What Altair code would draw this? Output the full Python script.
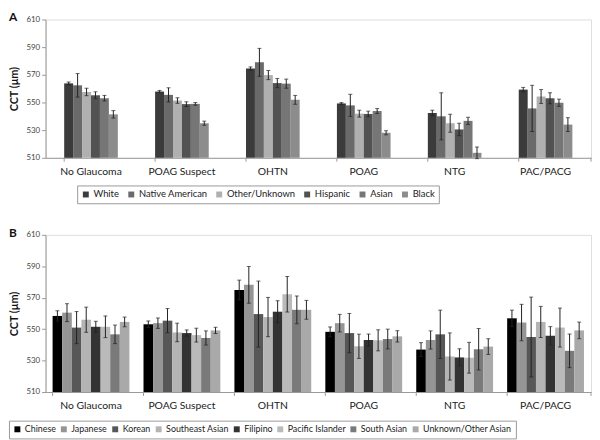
import altair as alt
import pandas as pd

conditions = ["No Glaucoma", "POAG Suspect", "OHTN", "POAG", "NTG", "PAC/PACG"]

# ---- Panel A: race/ethnicity ----
races = ["White", "Native American", "Other/Unknown", "Hispanic", "Asian", "Black"]
race_colors = ["#3b3b3b", "#6a6a6a", "#b0b0b0", "#525252", "#767676", "#8c8c8c"]

white_mean = [563.8, 557.9, 574.5, 549.3, 542.4, 559.3]
white_err = [1.0, 0.8, 1.2, 0.6, 2.0, 1.6]
native_mean = [562.4, 555.5, 579.0, 547.9, 540.0, 545.7]
native_err = [8.5, 5.1, 10.1, 8.0, 17.0, 16.7]
other_mean = [557.6, 551.4, 569.8, 541.9, 535.0, 554.3]
other_err = [2.7, 2.0, 3.3, 2.5, 6.5, 5.0]
hisp_mean = [555.2, 548.8, 564.0, 541.7, 530.5, 553.1]
hisp_err = [2.5, 1.7, 3.3, 2.0, 4.5, 4.0]
asian_mean = [553.1, 549.0, 563.6, 543.8, 536.7, 549.8]
asian_err = [2.0, 1.0, 3.3, 1.8, 2.6, 2.6]
black_mean = [541.4, 535.0, 551.9, 528.1, 513.6, 534.0]
black_err = [2.7, 1.5, 3.2, 1.5, 4.2, 5.0]

# ---- Panel B: Asian subgroups ----
subgroups = ["Chinese", "Japanese", "Korean", "Southeast Asian", "Filipino",
             "Pacific Islander", "South Asian", "Unknown/Other Asian"]
sub_colors = ["#000000", "#959595", "#575757", "#b4b4b4", "#333333",
              "#bababa", "#7a7a7a", "#a9a9a9"]

chinese_mean = [558.4, 553.1, 574.9, 548.3, 537.0, 556.9]
chinese_err = [3.3, 2.1, 6.3, 3.1, 4.4, 5.2]
japanese_mean = [560.5, 553.8, 578.2, 553.8, 543.1, 554.2]
japanese_err = [5.7, 3.3, 11.7, 5.6, 5.8, 11.6]
korean_mean = [551.0, 555.4, 559.6, 547.5, 546.7, 545.0]
korean_err = [10.2, 7.7, 21.0, 12.5, 15.4, 25.4]
sea_mean = [556.0, 547.9, 557.7, 539.1, 532.6, 554.6]
sea_err = [8.0, 5.9, 12.5, 7.7, 15.0, 9.9]
filipino_mean = [551.5, 547.5, 561.1, 543.1, 532.0, 545.8]
filipino_err = [3.5, 2.0, 7.0, 3.8, 5.5, 5.8]
pacific_mean = [551.5, 546.2, 572.2, 542.9, 531.8, 551.0]
pacific_err = [6.9, 4.4, 11.3, 6.7, 9.8, 12.4]
south_mean = [546.7, 544.4, 562.3, 543.7, 537.2, 536.2]
south_err = [5.9, 4.5, 8.8, 6.3, 13.2, 10.7]
unk_mean = [554.6, 549.2, 562.3, 545.4, 538.9, 549.2]
unk_err = [3.1, 2.0, 6.0, 3.6, 5.0, 5.3]

y_ticks = [510, 530, 550, 570, 590, 610]

FONT = "Lato"
W = 552


def build_df(groups, means, errs):
    rows = []
    for g, m, e in zip(groups, means, errs):
        for c, mv, ev in zip(conditions, m, e):
            rows.append({"cond": c, "grp": g, "mean": mv, "lo": mv - ev, "hi": mv + ev})
    return pd.DataFrame(rows)


def panel(groups, colors, means, errs, height, pad_inner, letter, lx, ly, lfs, colpad):
    df = build_df(groups, means, errs)
    xaxis = alt.Axis(ticks=False, labelPadding=9, labelFontSize=10.5,
                     labelColor="#222", domainColor="#999", labelAngle=0,
                     labelFont=FONT)
    xscale = alt.Scale(paddingInner=pad_inner, paddingOuter=pad_inner / 2)
    xenc = alt.X("cond:N", sort=conditions, title=None, scale=xscale, axis=xaxis)
    xoff = alt.XOffset("grp:N", sort=groups, scale=alt.Scale(paddingInner=0, paddingOuter=0))
    ydom = alt.Scale(domain=[510, 610], zero=False, nice=False)
    yaxis = alt.Axis(values=y_ticks, labelFontSize=8, labelOverlap=False,
                     labelColor="#444", tickSize=4, tickColor="#999",
                     domainColor="#999", grid=False, titleFontSize=11,
                     titleFont=FONT, titleFontWeight="bold", titleColor="#111",
                     labelFont=FONT, titlePadding=6, labelPadding=2)
    base = alt.Chart(df)
    bars = base.mark_bar().encode(
        x=xenc, xOffset=xoff,
        y=alt.Y("mean:Q", scale=ydom, title="CCT (μm)", axis=yaxis),
        y2=alt.datum(510),
        color=alt.Color("grp:N", sort=groups,
                        scale=alt.Scale(domain=groups, range=colors),
                        legend=alt.Legend(orient="none", legendX=lx, legendY=ly,
                                          direction="horizontal", columns=len(groups),
                                          title=None, strokeColor="#999", padding=4,
                                          symbolType="square", symbolSize=36,
                                          symbolStrokeWidth=0, labelFontSize=lfs,
                                          labelFont=FONT, labelColor="#222",
                                          columnPadding=colpad, labelOffset=3,
                                          labelLimit=200)),
    )
    rule = base.mark_rule(color="#222", strokeWidth=1).encode(
        x=xenc, xOffset=xoff,
        y=alt.Y("lo:Q", scale=ydom, title="CCT (μm)", axis=yaxis), y2="hi:Q")
    cap_lo = base.mark_tick(color="#222", thickness=1, size=4, orient="horizontal").encode(
        x=xenc, xOffset=xoff, y=alt.Y("lo:Q", scale=ydom, title="CCT (μm)", axis=yaxis))
    cap_hi = base.mark_tick(color="#222", thickness=1, size=4, orient="horizontal").encode(
        x=xenc, xOffset=xoff, y=alt.Y("hi:Q", scale=ydom, title="CCT (μm)", axis=yaxis))
    bticks = alt.Chart(pd.DataFrame({"cond": conditions})).mark_rule(
        color="#999", strokeWidth=1).encode(
        x=alt.X("cond:N", sort=conditions, bandPosition=0, title=None,
                scale=xscale, axis=xaxis),
        y=alt.value(height), y2=alt.value(height + 4))
    endtick = alt.Chart(pd.DataFrame({"cond": ["end"]})).mark_rule(
        color="#999", strokeWidth=1).encode(
        x=alt.value(W), y=alt.value(height), y2=alt.value(height + 4))
    lab = alt.Chart(pd.DataFrame({"t": [letter]})).mark_text(
        font=FONT, fontWeight="bold", fontSize=12, align="left", baseline="middle",
        color="#111").encode(text="t:N", x=alt.value(-37), y=alt.value(-2))
    return alt.layer(bars, rule, cap_lo, cap_hi, bticks, endtick, lab).properties(
        width=W, height=height)


pa = panel(races, race_colors,
           [white_mean, native_mean, other_mean, hisp_mean, asian_mean, black_mean],
           [white_err, native_err, other_err, hisp_err, asian_err, black_err],
           140, 0.41, "A", 32, 168, 9.5, 7)
pb = panel(subgroups, sub_colors,
           [chinese_mean, japanese_mean, korean_mean, sea_mean, filipino_mean,
            pacific_mean, south_mean, unk_mean],
           [chinese_err, japanese_err, korean_err, sea_err, filipino_err,
            pacific_err, south_err, unk_err],
           159, 0.155, "B", -37, 188, 9, 3)

chart = alt.vconcat(pa, pb, spacing=22).resolve_scale(
    x="independent", xOffset="independent", color="independent", y="independent"
).properties(padding=0).configure_view(stroke="#999", strokeWidth=1).configure(
    background="white")

chart.save("out.html", embed_options={"renderer": "svg", "actions": False})
